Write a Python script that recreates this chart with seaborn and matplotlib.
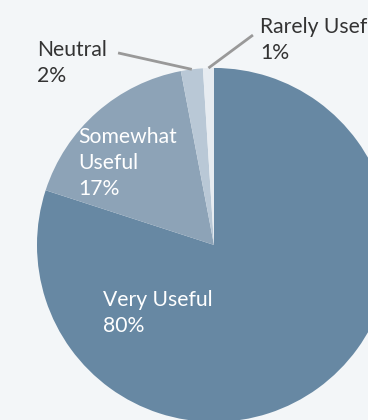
import numpy as np
import matplotlib
matplotlib.use("Agg")
import matplotlib.pyplot as plt
import seaborn as sns

# Survey responses
categories = ["Very Useful", "Somewhat Useful", "Neutral", "Rarely Useful"]
shares = [80, 17, 2, 1]
slice_colors = ["#6788a3", "#8da3b7", "#b9c8d6", "#e7ecf1"]

BG = "#f3f6f8"
sns.set_theme(style="white")
plt.rcParams["font.family"] = ["Lato", "DejaVu Sans"]

fig = plt.figure(figsize=(3.68, 4.2), dpi=100, facecolor=BG)
ax = fig.add_axes([0, 0, 1, 1])
ax.set_facecolor(BG)

wedges, _ = ax.pie(shares, colors=slice_colors, startangle=90, counterclock=False,
                   radius=1.0, center=(0, 0), wedgeprops=dict(linewidth=0))

ax.set_xlim(-1.209, 0.870)
ax.set_ylim(-0.989, 1.384)
ax.set_aspect("auto")
ax.axis("off")

fs = 15.2
ls = 1.37
txt_dark = "#333333"

# labels inside the large slices (anchored at the baseline of their last line)
ax.text(-0.627, -0.492, "Very Useful\n80%", color="white", fontsize=fs,
        ha="left", va="baseline", linespacing=ls)
ax.text(-0.768, 0.282, "Somewhat\nUseful\n17%", color="white", fontsize=fs,
        ha="left", va="baseline", linespacing=ls)

# outside labels with leader lines for small slices
def mid_point(w):
    ang = np.deg2rad((w.theta1 + w.theta2) / 2)
    return np.cos(ang), np.sin(ang)

x0, y0 = mid_point(wedges[2])
ax.plot([x0, -0.542], [y0, 1.085], color="#999999", lw=2.0, solid_capstyle="butt")
ax.text(-1.0, 0.921, "Neutral\n2%", color=txt_dark, fontsize=fs,
        ha="left", va="baseline", linespacing=ls)

x1, y1 = mid_point(wedges[3])
ax.plot([x1, 0.220], [y1, 1.186], color="#999999", lw=2.0, solid_capstyle="butt")
ax.text(0.26, 1.051, "Rarely Useful\n1%", color=txt_dark, fontsize=fs,
        ha="left", va="baseline", linespacing=ls, clip_on=False)

fig.savefig("out.png", dpi=100, facecolor=BG)
